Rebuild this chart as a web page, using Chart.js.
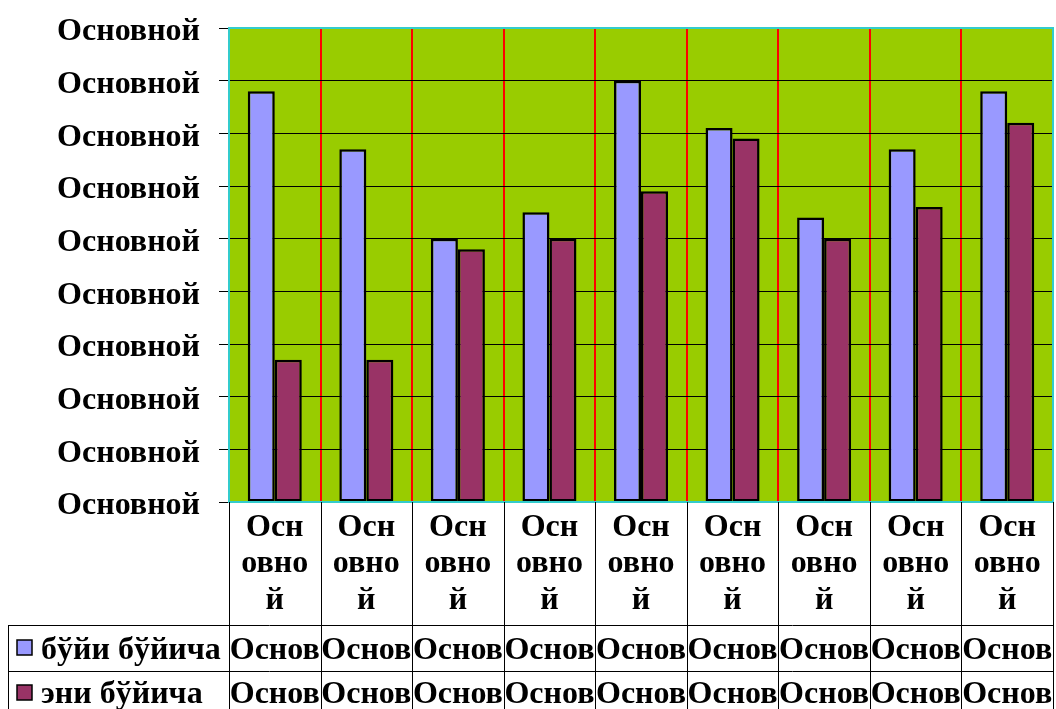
<!DOCTYPE html>
<html>
<head>
<meta charset="utf-8">
<script src="https://cdn.jsdelivr.net/npm/chart.js@4/dist/chart.umd.min.js"></script>
<style>
  html, body { margin: 0; padding: 0; background: #ffffff; }
  #wrap { width: 1056px; height: 709px; position: relative; }
</style>
</head>
<body>
<div id="wrap"><canvas id="c" width="1056" height="709"></canvas></div>
<script>
// Categories (wrapped over three lines in the axis cell)
const categories = [
  ['Осн', 'овно', 'й'], ['Осн', 'овно', 'й'], ['Осн', 'овно', 'й'],
  ['Осн', 'овно', 'й'], ['Осн', 'овно', 'й'], ['Осн', 'овно', 'й'],
  ['Осн', 'овно', 'й'], ['Осн', 'овно', 'й'], ['Осн', 'овно', 'й']
];
const seriesNames = ['бўйи бўйича', 'эни бўйича'];
const lengthValues = [7.8, 6.7, 5.0, 5.5, 8.0, 7.1, 5.4, 6.7, 7.8];
const widthValues  = [2.7, 2.7, 4.8, 5.0, 5.9, 6.9, 5.0, 5.6, 7.2];
const yTickLabels = ['Основной', 'Основной', 'Основной', 'Основной', 'Основной',
                     'Основной', 'Основной', 'Основной', 'Основной', 'Основной'];
const lengthTableText = ['Основ', 'Основ', 'Основ', 'Основ', 'Основ', 'Основ', 'Основ', 'Основ', 'Основ'];
const widthTableText  = ['Основ', 'Основ', 'Основ', 'Основ', 'Основ', 'Основ', 'Основ', 'Основ', 'Основ'];

const FONT = "'Liberation Serif', 'Times New Roman', serif";
const COLORS = ['#9999ff', '#993366'];
const PLOT_TOP = 28;

// Green plot background and cyan frame
const plotFrame = {
  id: 'plotFrame',
  beforeDraw(chart) {
    const { ctx, chartArea: a } = chart;
    ctx.save();
    ctx.fillStyle = '#99cc00';
    ctx.fillRect(a.left, a.top, a.right - a.left, a.bottom - a.top);
    ctx.restore();
  },
  afterDatasetsDraw(chart) {
    const { ctx, chartArea: a } = chart;
    ctx.save();
    ctx.strokeStyle = '#33cccc';
    ctx.lineWidth = 2;
    ctx.strokeRect(a.left, a.top, a.right - a.left, a.bottom - a.top);
    ctx.restore();
  }
};

// Data table under the plot: grid lines, legend keys and cell texts
const dataTable = {
  id: 'dataTable',
  afterDraw(chart) {
    const { ctx, chartArea: a } = chart;
    const xs = chart.scales.x;
    const half = (xs.getPixelForValue(1) - xs.getPixelForValue(0)) / 2;
    const bounds = [];
    for (let i = 0; i < categories.length; i++) bounds.push(xs.getPixelForValue(i) - half);
    bounds.push(xs.getPixelForValue(categories.length - 1) + half);

    const row1Top = 625, row2Top = 671, bottom = 709, tableLeft = 8;
    ctx.save();
    ctx.strokeStyle = '#000000';
    ctx.lineWidth = 1;
    ctx.beginPath();
    bounds.forEach(x => {
      const px = Math.round(x) + 0.5;
      ctx.moveTo(px, a.bottom);
      ctx.lineTo(px, bottom);
    });
    ctx.moveTo(tableLeft + 0.5, row1Top);
    ctx.lineTo(tableLeft + 0.5, bottom);
    [row1Top, row2Top].forEach(y => {
      ctx.moveTo(tableLeft, y + 0.5);
      ctx.lineTo(Math.round(bounds[bounds.length - 1]) + 1, y + 0.5);
    });
    ctx.stroke();

    // legend keys and row texts
    const rows = [
      { baseline: 659, key: 640, text: lengthTableText },
      { baseline: 703, key: 685, text: widthTableText }
    ];
    rows.forEach((r, i) => {
      ctx.fillStyle = COLORS[i];
      ctx.fillRect(17, r.key, 15, 15);
      ctx.strokeStyle = '#000000';
      ctx.lineWidth = 1.5;
      ctx.strokeRect(17, r.key, 15, 15);
      ctx.fillStyle = '#000000';
      ctx.font = 'bold 32px ' + FONT;
      ctx.textAlign = 'left';
      ctx.textBaseline = 'alphabetic';
      ctx.fillText(seriesNames[i], 41, r.baseline);
      ctx.textAlign = 'center';
      r.text.forEach((t, j) => {
        ctx.fillText(t, (bounds[j] + bounds[j + 1]) / 2, r.baseline);
      });
    });
    ctx.restore();
  }
};

new Chart(document.getElementById('c'), {
  type: 'bar',
  data: {
    labels: categories,
    datasets: [
      { label: seriesNames[0], data: lengthValues, backgroundColor: COLORS[0],
        borderColor: '#000000', borderWidth: 2.5, borderSkipped: false },
      { label: seriesNames[1], data: widthValues, backgroundColor: COLORS[1],
        borderColor: '#000000', borderWidth: 2.5, borderSkipped: false }
    ]
  },
  options: {
    responsive: false,
    animation: false,
    devicePixelRatio: 1,
    layout: { padding: { left: 0, top: 0, right: 3, bottom: 0 } },
    datasets: { bar: { categoryPercentage: 0.59, barPercentage: 1.0 } },
    plugins: { legend: { display: false }, tooltip: { enabled: false } },
    scales: {
      x: {
        afterFit(scale) { scale.height = 207; },
        border: { display: false },
        grid: {
          offset: true,
          drawTicks: false,
          lineWidth: 2,
          color: ctx => (ctx.index === 0 || ctx.index === categories.length) ? 'rgba(0,0,0,0)' : '#ff0000'
        },
        ticks: {
          color: '#000000',
          padding: 7,
          maxRotation: 0,
          autoSkip: false,
          font: { family: FONT, size: 32, weight: 'bold', lineHeight: 1.15 }
        }
      },
      y: {
        min: 0,
        max: 9,
        afterFit(scale) { scale.width = 229; scale.paddingTop = PLOT_TOP; },
        border: { display: false },
        grid: { color: '#000000', lineWidth: 1, tickLength: 10, tickColor: '#000000' },
        ticks: {
          stepSize: 1,
          padding: 19,
          labelOffset: 4,
          color: '#000000',
          font: { family: FONT, size: 32, weight: 'bold' },
          callback: (v, i) => yTickLabels[i]
        }
      }
    }
  },
  plugins: [plotFrame, dataTable]
});
</script>
</body>
</html>
